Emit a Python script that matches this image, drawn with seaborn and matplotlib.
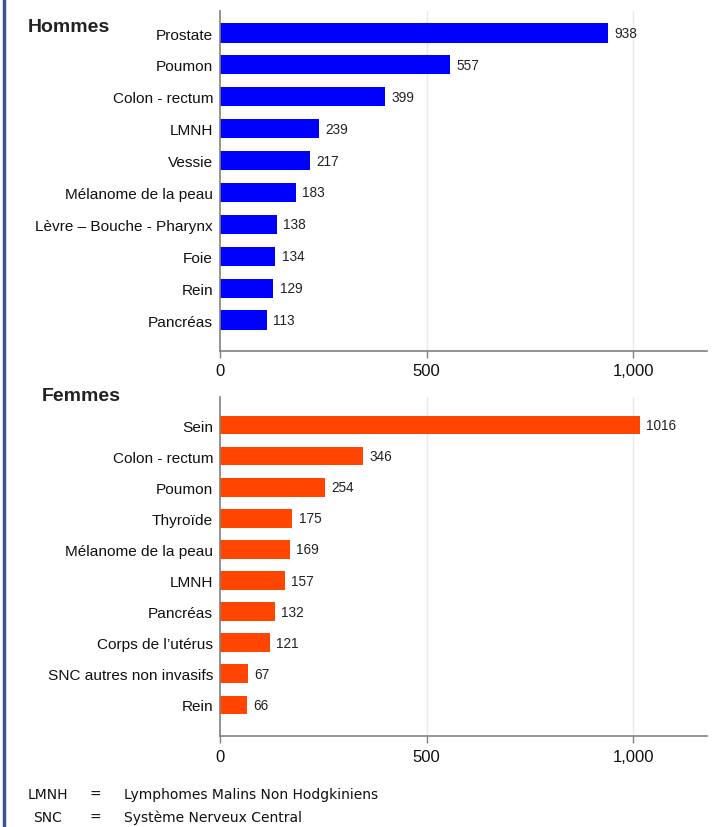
import matplotlib
matplotlib.use("Agg")
import matplotlib.pyplot as plt
import matplotlib.ticker as mticker
from matplotlib.lines import Line2D
import pandas as pd
import seaborn as sns

hommes_sites = ["Prostate", "Poumon", "Colon - rectum", "LMNH", "Vessie",
                "Mélanome de la peau", "Lèvre – Bouche - Pharynx", "Foie", "Rein", "Pancréas"]
hommes_cas = [938, 557, 399, 239, 217, 183, 138, 134, 129, 113]

femmes_sites = ["Sein", "Colon - rectum", "Poumon", "Thyroïde", "Mélanome de la peau",
                "LMNH", "Pancréas", "Corps de l’utérus", "SNC autres non invasifs", "Rein"]
femmes_cas = [1016, 346, 254, 175, 169, 157, 132, 121, 67, 66]

x_ticks = [0, 500, 1000]

sns.set_theme(style="white")
plt.rcParams["font.family"] = ["Liberation Sans", "DejaVu Sans"]

fig = plt.figure(figsize=(7.16, 8.28), dpi=100)
ax_h = fig.add_axes([0.3073, 0.5749, 0.6801, 0.4106])
ax_f = fig.add_axes([0.3073, 0.1099, 0.6801, 0.4094])


def draw_panel(ax, sites, values, color, ylim):
    df = pd.DataFrame({"site": sites, "cas": values})
    sns.barplot(data=df, y="site", x="cas", orient="h", color=color,
                width=0.6, saturation=1, ax=ax, edgecolor=color, linewidth=0)
    ax.bar_label(ax.containers[0], labels=[str(v) for v in values],
                 padding=4.5, fontsize=9.8, color="#222222")
    ax.set_xlim(0, 1178)
    ax.set_ylim(*ylim)
    ax.set_xticks(x_ticks)
    ax.xaxis.set_major_formatter(mticker.FuncFormatter(lambda v, _: f"{int(v):,}"))
    ax.set_xlabel("")
    ax.set_ylabel("")
    ax.tick_params(axis="x", bottom=True, length=5, width=1, color="#808080",
                   labelsize=12, pad=4, labelcolor="#111111")
    ax.tick_params(axis="y", left=False, length=0, labelsize=11.1, pad=5,
                   labelcolor="#111111")
    for s in ["top", "right"]:
        ax.spines[s].set_visible(False)
    for s in ["left", "bottom"]:
        ax.spines[s].set_color("#808080")
        ax.spines[s].set_linewidth(1.2)
    for v in x_ticks[1:]:
        ax.axvline(v, color="#E6EAF2", linewidth=1, zorder=0)


draw_panel(ax_h, hommes_sites, hommes_cas, "#0000FF", (9.97, -0.69))
draw_panel(ax_f, femmes_sites, femmes_cas, "#FF4500", (10.0, -0.9))

fig.text(28 / 716, 1 - 27 / 828, "Hommes", fontsize=14, fontweight="bold",
         color="#222222", va="center", ha="left")
fig.text(42 / 716, 1 - 397 / 828, "Femmes", fontsize=14, fontweight="bold",
         color="#222222", va="center", ha="left")

foot = dict(fontsize=10, color="#111111", va="center", family=["DejaVu Sans"])
fig.text(28 / 716, 1 - 795 / 828, "LMNH", ha="left", **foot)
fig.text(95 / 716, 1 - 795 / 828, "=", ha="center", **foot)
fig.text(124 / 716, 1 - 795 / 828, "Lymphomes Malins Non Hodgkiniens", ha="left", **foot)
fig.text(33 / 716, 1 - 818 / 828, "SNC", ha="left", **foot)
fig.text(95 / 716, 1 - 818 / 828, "=", ha="center", **foot)
fig.text(124 / 716, 1 - 818 / 828, "Système Nerveux Central", ha="left", **foot)

fig.add_artist(Line2D([4 / 716, 4 / 716], [0, 1], color="#3B5592", linewidth=2.5,
                      transform=fig.transFigure))

fig.savefig("out.png", dpi=100)
